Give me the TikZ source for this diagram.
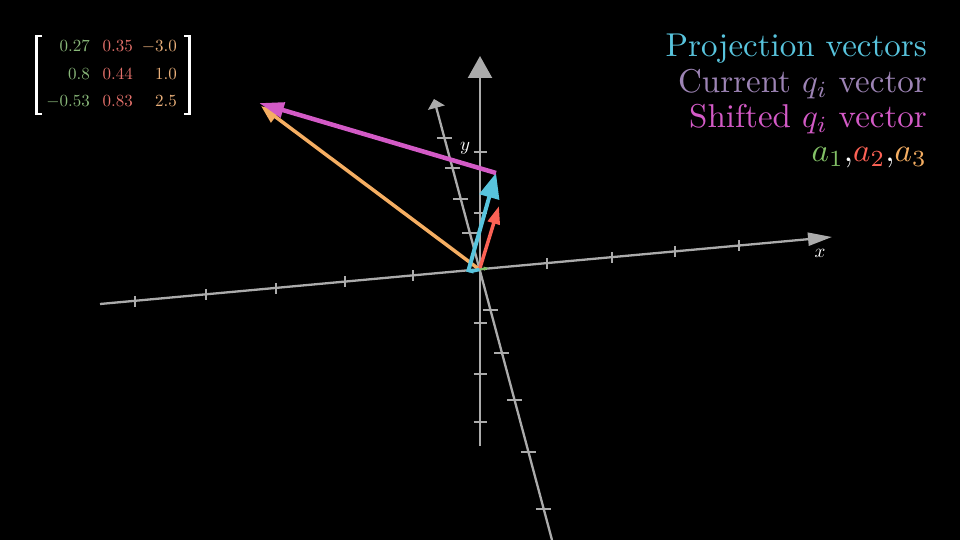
\documentclass[tikz,border=0pt]{standalone}
\usepackage{graphicx}
\usetikzlibrary{arrows.meta}
\definecolor{axisc}{HTML}{ABABAB}
\definecolor{projc}{HTML}{58C4DD}
\definecolor{curc}{HTML}{9D84B5}
\definecolor{shiftc}{HTML}{D35AC6}
\definecolor{aone}{HTML}{83C167}
\definecolor{atwo}{HTML}{FC6255}
\definecolor{athree}{HTML}{F5AE62}
\definecolor{mone}{HTML}{8AB97A}
\definecolor{mtwo}{HTML}{E5716B}
\definecolor{mthree}{HTML}{EBB07A}
\tikzset{
  axisline/.style={draw=axisc, fill=axisc, line width=2.3pt},
  tickline/.style={draw=axisc, line width=2pt},
  vecline/.style={line width=3.5pt},
  legend/.style={anchor=base east, inner sep=0pt},
  entry/.style={anchor=base east, inner sep=0pt},
  axlabel/.style={inner sep=0pt, text=white},
  bracketline/.style={draw=white, line width=2.5pt}
}
\begin{document}
\begin{tikzpicture}[x=1pt,y=-1pt]
\fill[black] (0,0) rectangle (960,540);
\useasboundingbox (0,0) rectangle (960,540);

% coordinates
\coordinate (O) at (479.5,269.5);
\coordinate (xneg) at (100,304);
\coordinate (xpos) at (832,237);
\coordinate (yneg) at (480,446);
\coordinate (ypos) at (480,56);
\coordinate (zneg) at (552,540);
\coordinate (zpos) at (434,99);

% axes
\draw[axisline, -{Triangle[length=24pt,width=13pt]}] (xneg) -- (xpos);
\draw[axisline, -{Triangle[length=22pt,width=24pt]}] (yneg) -- (ypos);
\draw[axisline, -{Triangle[length=9pt,width=17pt]}] (zneg) -- (zpos);

% ticks on x axis
\foreach \tx in {135,206,276,345,413,547,612,675,739}{
  \pgfmathsetmacro{\ty}{269.5-0.0922*(\tx-479.5)}
  \draw[tickline] (\tx,\ty-5.5) -- (\tx,\ty+5.5);
}
% ticks on vertical axis
\foreach \ty in {152,213,323,374,422}{
  \draw[tickline] (473.5,\ty) -- (486.5,\ty);
}
% ticks on tilted axis
\foreach \ty in {138,168,199,233,310,353,400,452,509}{
  \pgfmathsetmacro{\tx}{479.5+0.2669*(\ty-269.5)}
  \draw[tickline] (\tx-7.5,\ty) -- (\tx+7.5,\ty);
}

% axis labels
\node[axlabel] (xl) at (820,253) {\scalebox{1.9}{$x$}};
\node[axlabel] (yl) at (465,148) {\scalebox{1.9}{$y$}};

% vectors
\coordinate (a3tip) at (261,106);
\coordinate (qs) at (496,173);
\coordinate (qstip) at (259,103);
\coordinate (p1) at (468,272);
\coordinate (a2tip) at (499,206);
\coordinate (a1tip) at (488,268);

\draw[vecline, draw=athree, fill=athree, line width=3.5pt, -{Triangle[length=18pt,width=14pt]}] (O) -- (a3tip);
\draw[vecline, draw=atwo, fill=atwo, line width=3.5pt, -{Triangle[length=18pt,width=12pt]}] (O) -- (a2tip);
\draw[vecline, draw=aone, fill=aone, line width=2pt, -{Triangle[length=4pt,width=4pt]}] (O) -- (a1tip);
\draw[vecline, draw=projc, fill=projc, line width=3.5pt, -{Triangle[length=5pt,width=5pt]}] (O) -- (p1);
\draw[vecline, draw=projc, fill=projc, line width=4pt, -{Triangle[length=25pt,width=20pt]}] (p1) -- (qs);
\draw[vecline, draw=shiftc, fill=shiftc, line width=4.5pt, -{Triangle[length=25pt,width=15pt]}] (qs) -- (qstip);

% legend
\node[legend, text=projc] (l1) at (927,57) {\scalebox{3.3}{Projection vectors}};
\node[legend, text=curc] (l2) at (927,93) {\scalebox{3.3}{Current $q_i$ vector}};
\node[legend, text=shiftc] (l3) at (927,128) {\scalebox{3.3}{Shifted $q_i$ vector}};
\node[legend] (l4) at (927,162) {\scalebox{3.3}{{\color{aone}$a_1$}{\color{white},}{\color{atwo}$a_2$}{\color{white},}{\color{athree}$a_3$}}};

% matrix
\draw[bracketline] (42,36) -- (36.5,36) -- (36.5,114) -- (42,114);
\draw[bracketline] (184,36) -- (189.5,36) -- (189.5,114) -- (184,114);
\node[entry, text=mone] (m11) at (90,52) {\scalebox{1.7}{$0.27$}};
\node[entry, text=mone] (m21) at (90,80) {\scalebox{1.7}{$0.8$}};
\node[entry, text=mone] (m31) at (90,107) {\scalebox{1.7}{$-0.53$}};
\node[entry, text=mtwo] (m12) at (133,52) {\scalebox{1.7}{$0.35$}};
\node[entry, text=mtwo] (m22) at (133,80) {\scalebox{1.7}{$0.44$}};
\node[entry, text=mtwo] (m32) at (133,107) {\scalebox{1.7}{$0.83$}};
\node[entry, text=mthree] (m13) at (177,52) {\scalebox{1.7}{$-3.0$}};
\node[entry, text=mthree] (m23) at (177,80) {\scalebox{1.7}{$1.0$}};
\node[entry, text=mthree] (m33) at (177,107) {\scalebox{1.7}{$2.5$}};
\end{tikzpicture}
\end{document}
